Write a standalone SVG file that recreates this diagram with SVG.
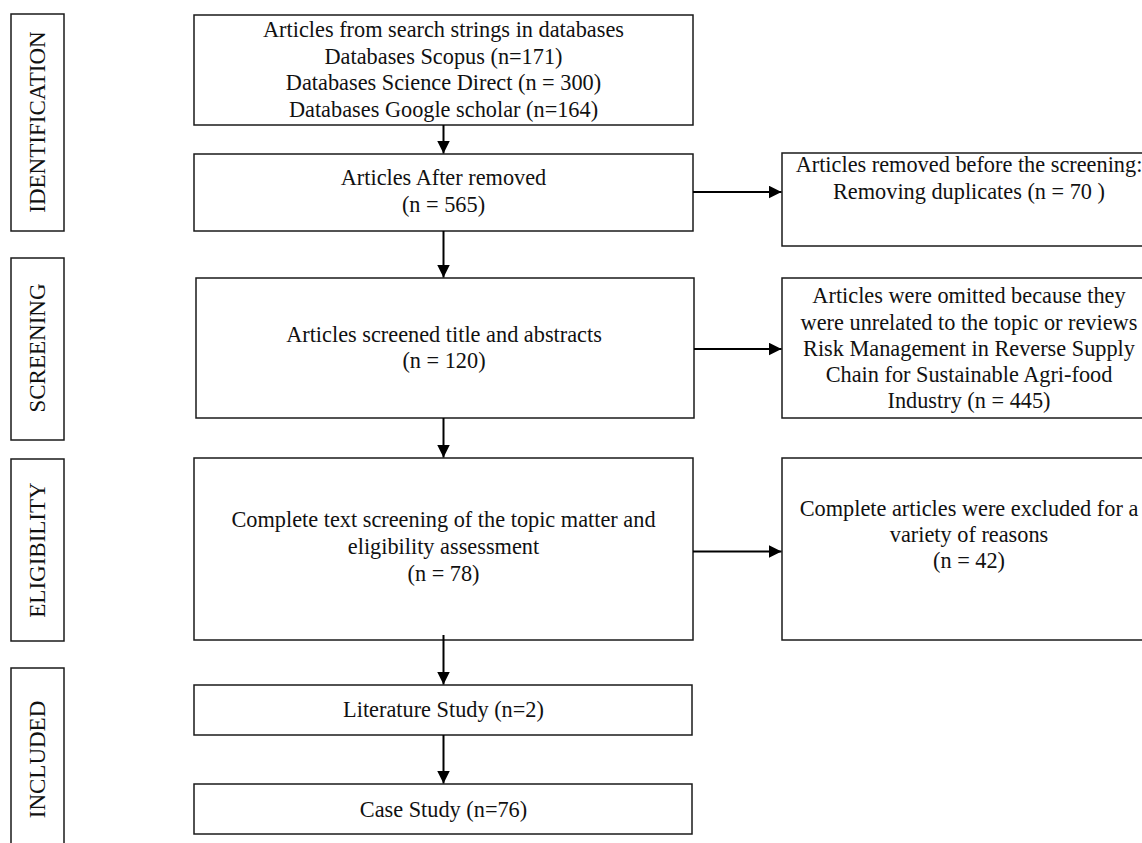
<svg xmlns="http://www.w3.org/2000/svg" width="1142" height="843" viewBox="0 0 1142 843">
  <style>
    .box { fill: #ffffff; stroke: #1a1a1a; stroke-width: 1.5; }
    .txt { font-family: "Liberation Serif", "Times New Roman", serif; font-size: 22.3px; fill: #111111; text-anchor: middle; }
    .phase { font-size: 23px; }
    .conn { stroke: #000000; stroke-width: 2; fill: none; }
  </style>
  <defs>
    <marker id="arrow" markerUnits="userSpaceOnUse" markerWidth="14" markerHeight="13" refX="13" refY="6.5" orient="auto">
      <path d="M0,0 L13,6.5 L0,13 Z" fill="#000000"/>
    </marker>
  </defs>
  <rect width="1142" height="843" fill="#ffffff"/>

  <!-- phase labels -->
  <g id="phase-identification">
    <rect class="box" x="11" y="14" width="53" height="217"/>
    <text class="txt phase" transform="translate(45,122) rotate(-90)">IDENTIFICATION</text>
  </g>
  <g id="phase-screening">
    <rect class="box" x="11" y="258" width="53" height="182"/>
    <text class="txt phase" transform="translate(45,348) rotate(-90)">SCREENING</text>
  </g>
  <g id="phase-eligibility">
    <rect class="box" x="11" y="459" width="53" height="182"/>
    <text class="txt phase" transform="translate(45,550) rotate(-90)">ELIGIBILITY</text>
  </g>
  <g id="phase-included">
    <rect class="box" x="11" y="668" width="53" height="190"/>
    <text class="txt phase" transform="translate(45,759.5) rotate(-90)">INCLUDED</text>
  </g>

  <!-- main flow -->
  <g id="search">
    <rect class="box" x="194" y="15" width="499" height="110"/>
    <text class="txt" x="443.5" y="37">Articles from search strings in databases</text>
    <text class="txt" x="443.5" y="63.5">Databases Scopus (n=171)</text>
    <text class="txt" x="443.5" y="90">Databases Science Direct (n = 300)</text>
    <text class="txt" x="443.5" y="116.5">Databases Google scholar (n=164)</text>
  </g>
  <g id="after-removed">
    <rect class="box" x="194" y="154" width="499" height="77"/>
    <text class="txt" x="443.5" y="185">Articles After removed</text>
    <text class="txt" x="443.5" y="212">(n = 565)</text>
  </g>
  <g id="screened">
    <rect class="box" x="196" y="278" width="498" height="140"/>
    <text class="txt" x="444" y="341.5">Articles screened title and abstracts</text>
    <text class="txt" x="444" y="368">(n = 120)</text>
  </g>
  <g id="full-text">
    <rect class="box" x="194" y="458" width="499" height="182"/>
    <text class="txt" x="443.5" y="527">Complete text screening of the topic matter and</text>
    <text class="txt" x="443.5" y="554">eligibility assessment</text>
    <text class="txt" x="443.5" y="580.5">(n = 78)</text>
  </g>
  <g id="literature">
    <rect class="box" x="194" y="685" width="498" height="50"/>
    <text class="txt" x="443.5" y="717">Literature Study (n=2)</text>
  </g>
  <g id="case">
    <rect class="box" x="194" y="784" width="498" height="50"/>
    <text class="txt" x="443.5" y="817">Case Study (n=76)</text>
  </g>

  <!-- exclusion boxes -->
  <g id="removed-duplicates">
    <rect class="box" x="782" y="153" width="400" height="93"/>
    <text class="txt" x="969" y="172">Articles removed before the screening:</text>
    <text class="txt" x="969" y="199">Removing duplicates (n = 70 )</text>
  </g>
  <g id="omitted">
    <rect class="box" x="782" y="278" width="400" height="140"/>
    <text class="txt" x="969" y="303">Articles were omitted because they</text>
    <text class="txt" x="969" y="329.5">were unrelated to the topic or reviews</text>
    <text class="txt" x="969" y="355.5">Risk Management in Reverse Supply</text>
    <text class="txt" x="969" y="382">Chain for Sustainable Agri-food</text>
    <text class="txt" x="969" y="408">Industry (n = 445)</text>
  </g>
  <g id="excluded">
    <rect class="box" x="782" y="458" width="400" height="182"/>
    <text class="txt" x="969" y="516">Complete articles were excluded for a</text>
    <text class="txt" x="969" y="542">variety of reasons</text>
    <text class="txt" x="969" y="568">(n = 42)</text>
  </g>

  <!-- connectors -->
  <g id="connectors">
    <line class="conn" x1="443.5" y1="125" x2="443.5" y2="153.5" marker-end="url(#arrow)"/>
    <line class="conn" x1="443.5" y1="231" x2="443.5" y2="277.5" marker-end="url(#arrow)"/>
    <line class="conn" x1="443.5" y1="418" x2="443.5" y2="457.5" marker-end="url(#arrow)"/>
    <line class="conn" x1="443.5" y1="635" x2="443.5" y2="684.5" marker-end="url(#arrow)"/>
    <line class="conn" x1="443.5" y1="735" x2="443.5" y2="783.5" marker-end="url(#arrow)"/>
    <line class="conn" x1="693" y1="192" x2="781.5" y2="192" marker-end="url(#arrow)"/>
    <line class="conn" x1="694" y1="349" x2="781.5" y2="349" marker-end="url(#arrow)"/>
    <line class="conn" x1="693" y1="551.5" x2="781.5" y2="551.5" marker-end="url(#arrow)"/>
  </g>
</svg>
